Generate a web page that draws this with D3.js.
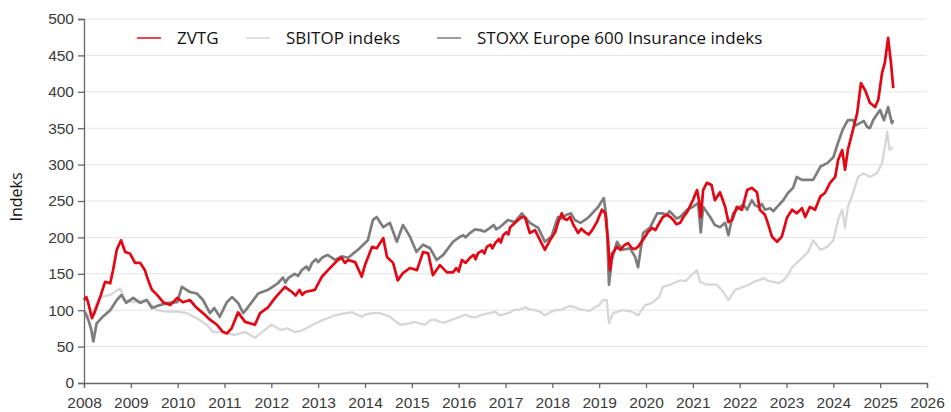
<!doctype html>
<html>
  <head>
    <meta charset="UTF-8"/>
    <title>ZVTG</title>
    <script src="https://d3js.org/d3.v7.min.js"></script>
    <style>
      body {
          margin: 0;
          padding: 0;
          background: #fff;
      }
      svg {
          display: block;
          font-family: "Open Sans", sans-serif;
      }
    </style>
  </head>
  <body>
    <section id="chart"></section>
    <script>
      // [decimal year, index value]
      const zvtg = [
        [2008.00,114],[2008.05,118],[2008.09,110],[2008.17,89],[2008.22,96],[2008.34,117],[2008.45,139],
        [2008.56,137],[2008.62,155],[2008.70,183],[2008.79,196],[2008.88,180],[2008.98,178],[2009.09,165],
        [2009.20,165],[2009.30,155],[2009.37,141],[2009.45,128],[2009.56,121],[2009.69,111],[2009.84,107],
        [2009.99,117],[2010.11,111],[2010.26,114],[2010.41,103],[2010.54,96],[2010.69,87],[2010.84,80],
        [2010.97,70],[2011.05,68],[2011.15,75],[2011.29,97],[2011.44,84],[2011.65,80],[2011.76,96],
        [2011.93,104],[2012.08,117],[2012.29,132],[2012.44,125],[2012.52,120],[2012.60,128],[2012.66,121],
        [2012.72,125],[2012.93,128],[2013.08,146],[2013.21,155],[2013.42,169],[2013.50,172],[2013.57,165],
        [2013.64,169],[2013.79,166],[2013.93,146],[2014.00,162],[2014.15,187],
        [2014.25,185],[2014.39,199],[2014.47,173],[2014.60,165],[2014.70,141],[2014.81,151],[2014.96,158],
        [2015.11,155],[2015.24,180],[2015.35,178],[2015.45,148],[2015.60,162],[2015.75,152],[2015.88,152],
        [2015.95,158],[2016.00,153],[2016.07,169],[2016.15,165],[2016.24,172],[2016.32,176],[2016.36,170],
        [2016.41,178],[2016.50,182],[2016.55,178],[2016.60,187],[2016.68,190],[2016.72,185],[2016.78,192],
        [2016.86,198],[2016.90,193],[2016.95,203],[2017.02,207],[2017.06,204],[2017.10,214],
        [2017.27,224],[2017.35,228],[2017.42,227],[2017.52,206],[2017.63,210],[2017.74,196],[2017.84,183],
        [2017.95,196],[2018.06,207],[2018.12,220],[2018.20,233],[2018.25,226],[2018.31,224],[2018.38,228],
        [2018.45,217],[2018.50,212],[2018.55,206],[2018.62,212],[2018.70,207],[2018.78,204],
        [2018.85,210],[2018.95,221],[2019.06,238],[2019.13,233],[2019.19,196],[2019.23,155],[2019.28,178],
        [2019.38,187],[2019.45,183],[2019.55,190],[2019.62,192],[2019.70,185],[2019.76,184],[2019.83,187],
        [2019.98,201],[2020.05,208],[2020.13,213],[2020.20,210],[2020.26,217],
        [2020.36,228],[2020.45,231],[2020.52,228],[2020.58,224],[2020.65,218],[2020.73,220],[2020.80,228],
        [2020.88,235],[2021.00,251],[2021.09,265],
        [2021.13,251],[2021.17,228],[2021.22,265],[2021.30,275],[2021.40,272],[2021.47,251],[2021.58,262],
        [2021.69,242],[2021.76,221],[2021.84,224],[2021.94,242],[2022.05,238],[2022.16,265],[2022.26,268],
        [2022.37,262],[2022.43,238],[2022.54,231],[2022.60,220],[2022.69,201],[2022.80,194],[2022.90,201],
        [2023.01,227],[2023.12,238],[2023.22,233],[2023.33,240],[2023.40,228],[2023.50,242],[2023.61,238],
        [2023.72,256],[2023.82,261],[2023.93,275],[2024.04,283],[2024.10,306],[2024.19,320],[2024.25,293],
        [2024.31,320],[2024.42,348],[2024.51,371],[2024.59,412],[2024.68,402],[2024.78,385],[2024.89,379],
        [2024.96,389],[2025.04,426],[2025.10,440],[2025.17,474],[2025.23,440],[2025.28,405]
      ];
      const sbitop = [
        [2008.00,100],[2008.10,92],[2008.20,100],[2008.34,118],[2008.56,121],[2008.77,130],[2008.88,114],
        [2009.05,111],[2009.34,114],[2009.56,100],[2009.76,98],[2009.99,98],[2010.19,96],[2010.41,89],
        [2010.62,80],[2010.76,70],[2010.97,70],[2011.20,66],[2011.44,70],[2011.65,62],[2011.80,70],
        [2012.00,80],[2012.20,73],[2012.35,75],[2012.50,70],[2012.65,72],[2012.80,77],[2012.95,82],
        [2013.08,86],[2013.20,89],[2013.36,93],[2013.50,95],[2013.72,97],[2013.93,91],[2014.00,94],
        [2014.15,96],[2014.32,96],[2014.53,91],[2014.65,85],[2014.75,80],[2014.96,82],[2015.05,84],
        [2015.17,82],[2015.28,80],[2015.39,86],[2015.50,87],[2015.60,84],[2015.70,83],[2015.82,86],
        [2016.03,91],[2016.15,94],[2016.24,91],[2016.35,90],[2016.46,93],[2016.57,95],[2016.67,96],
        [2016.78,98],[2016.88,93],[2017.00,95],[2017.10,97],[2017.20,101],[2017.27,100],[2017.42,104],
        [2017.52,101],[2017.63,100],[2017.74,98],[2017.84,93],[2017.95,97],[2018.06,100],[2018.17,100],
        [2018.27,103],[2018.38,106],[2018.48,104],[2018.60,101],[2018.70,100],[2018.80,99],[2018.91,104],
        [2019.00,107],[2019.08,114],[2019.16,114],[2019.21,82],
        [2019.30,96],[2019.50,100],[2019.70,98],[2019.83,93],[2019.98,107],[2020.10,109],[2020.20,114],
        [2020.28,118],[2020.36,132],[2020.51,135],[2020.62,138],[2020.73,141],[2020.84,140],[2020.94,146],
        [2021.00,150],[2021.09,155],[2021.15,139],[2021.30,135],[2021.51,135],
        [2021.65,125],[2021.76,114],[2021.90,128],[2022.08,132],[2022.20,135],[2022.30,139],[2022.40,141],
        [2022.51,144],[2022.62,140],[2022.73,139],[2022.83,137],[2022.93,141],[2023.03,148],
        [2023.12,159],[2023.30,170],[2023.46,180],[2023.57,196],[2023.72,183],[2023.87,187],
        [2024.00,196],[2024.10,224],[2024.19,238],[2024.25,213],[2024.31,242],[2024.42,261],[2024.53,283],
        [2024.64,288],[2024.78,283],[2024.93,288],[2025.04,302],[2025.10,324],[2025.15,345],[2025.20,320],
        [2025.27,324]
      ];
      const stoxx = [
        [2008.00,100],[2008.09,87],[2008.15,75],[2008.20,57],[2008.27,82],[2008.40,91],[2008.56,100],
        [2008.70,114],[2008.80,121],[2008.90,110],[2009.05,117],[2009.20,110],[2009.34,114],[2009.45,103],
        [2009.62,107],[2009.80,110],[2009.99,111],[2010.09,132],[2010.26,125],[2010.41,123],[2010.54,114],
        [2010.69,96],[2010.78,103],[2010.90,91],[2011.05,111],[2011.16,118],[2011.29,110],[2011.40,96],
        [2011.50,104],[2011.72,123],[2011.93,128],[2012.05,133],[2012.14,137],[2012.25,145],[2012.30,138],
        [2012.36,144],[2012.50,150],[2012.57,147],[2012.65,155],[2012.75,160],[2012.80,155],[2012.87,165],
        [2012.95,170],[2013.00,166],[2013.08,172],[2013.20,176],[2013.36,169],[2013.50,174],[2013.64,172],
        [2013.75,178],[2013.85,183],[2014.06,196],[2014.17,224],[2014.25,228],
        [2014.39,214],[2014.53,220],[2014.68,194],[2014.81,217],[2014.96,201],[2015.10,180],[2015.24,190],
        [2015.39,185],[2015.53,169],[2015.67,176],[2015.88,194],[2016.03,201],[2016.10,203],[2016.15,200],
        [2016.24,206],[2016.35,211],[2016.46,210],[2016.55,208],[2016.67,213],[2016.75,217],[2016.80,211],
        [2016.88,214],[2017.05,224],[2017.20,221],[2017.35,233],[2017.52,220],[2017.70,213],
        [2017.84,194],[2017.98,201],[2018.12,228],[2018.20,226],[2018.30,231],[2018.40,233],[2018.48,224],
        [2018.60,220],[2018.70,224],[2018.78,228],[2018.85,233],
        [2018.98,242],[2019.10,254],[2019.16,224],[2019.21,135],[2019.27,169],[2019.38,194],[2019.49,183],
        [2019.66,185],[2019.77,173],[2019.83,159],[2019.94,206],[2020.09,214],[2020.24,233],[2020.36,233],
        [2020.45,231],[2020.50,236],[2020.58,231],[2020.65,226],[2020.73,228],[2020.80,233],[2020.88,238],
        [2021.00,242],[2021.11,247],[2021.17,207],
        [2021.22,242],[2021.37,228],[2021.47,217],[2021.58,214],[2021.69,220],[2021.76,203],[2021.86,233],
        [2022.00,242],[2022.08,245],[2022.16,238],[2022.26,251],[2022.33,244],[2022.40,242],[2022.47,246],
        [2022.54,238],[2022.65,240],[2022.72,236],[2022.80,242],[2022.86,246],
        [2022.93,251],[2023.03,261],[2023.14,268],[2023.22,283],[2023.33,279],[2023.46,279],[2023.57,279],
        [2023.72,297],[2023.87,302],[2024.00,310],[2024.10,330],[2024.20,348],[2024.31,361],[2024.42,361],
        [2024.48,354],[2024.57,357],[2024.65,360],[2024.72,352],[2024.78,350],[2024.85,361],[2024.92,368],
        [2025.00,375],[2025.08,361],[2025.17,379],[2025.25,357],
        [2025.28,361]
      ];
      const yearTicks = d3.range(2008, 2027);
      const valueTicks = [0, 50, 100, 150, 200, 250, 300, 350, 400, 450, 500];
      const seriesNames = ["ZVTG", "SBITOP indeks", "STOXX Europe 600 Insurance indeks"];

      const W = 951, H = 412;
      const margin = {top: 19, right: 24, bottom: 29, left: 84};

      const svg = d3.select("#chart").append("svg")
        .attr("width", W).attr("height", H);

      const x = d3.scaleLinear().domain([2008, 2026]).range([margin.left, W - margin.right]);
      const y = d3.scaleLinear().domain([0, 500]).range([H - margin.bottom, margin.top]);

      // grid
      svg.append("g")
        .selectAll("line")
        .data(valueTicks.filter(v => v > 0))
        .join("line")
        .attr("x1", x(2008)).attr("x2", x(2026))
        .attr("y1", d => y(d)).attr("y2", d => y(d))
        .attr("stroke", "#e4e4e4").attr("stroke-width", 1);

      const yAxis = svg.append("g")
        .attr("transform", `translate(${margin.left},0)`)
        .call(d3.axisLeft(y).tickValues(valueTicks).tickSize(6).tickPadding(4));
      const xAxis = svg.append("g")
        .attr("transform", `translate(0,${H - margin.bottom})`)
        .call(d3.axisBottom(x).tickValues(yearTicks).tickFormat(d3.format("d")).tickSize(5).tickPadding(9));

      [yAxis, xAxis].forEach(a => {
        a.selectAll("path, line").attr("stroke", "#666").attr("stroke-width", 1.3);
        a.selectAll("text").attr("fill", "#3a3a3a").style("font-size", "15.5px");
      });

      svg.append("text")
        .attr("transform", "translate(22,197) rotate(-90)")
        .attr("text-anchor", "middle")
        .style("font-size", "16px")
        .attr("fill", "#111")
        .text("Indeks");

      const line = d3.line().x(d => x(d[0])).y(d => y(d[1]));

      const series = [
        {name: seriesNames[1], data: sbitop, color: "#d6d6d6", width: 2.3},
        {name: seriesNames[2], data: stoxx, color: "#7d7d7d", width: 2.7},
        {name: seriesNames[0], data: zvtg, color: "#e30613", width: 2.7}
      ];

      svg.append("g")
        .selectAll("path")
        .data(series)
        .join("path")
        .attr("d", d => line(d.data))
        .attr("fill", "none")
        .attr("stroke", d => d.color)
        .attr("stroke-width", d => d.width)
        .attr("stroke-linejoin", "round");

      // legend
      const legend = [
        {name: seriesNames[0], color: "#e30613", x0: 137},
        {name: seriesNames[1], color: "#d6d6d6", x0: 246},
        {name: seriesNames[2], color: "#7d7d7d", x0: 437}
      ];
      const lg = svg.append("g").selectAll("g").data(legend).join("g")
        .attr("transform", d => `translate(${d.x0},38)`);
      lg.append("line").attr("x1", 0).attr("x2", 24)
        .attr("stroke", d => d.color).attr("stroke-width", 1.5);
      lg.append("text").attr("x", 40).attr("y", 6)
        .style("font-size", "17px").attr("fill", "#111")
        .text(d => d.name);
    </script>
  </body>
</html>
